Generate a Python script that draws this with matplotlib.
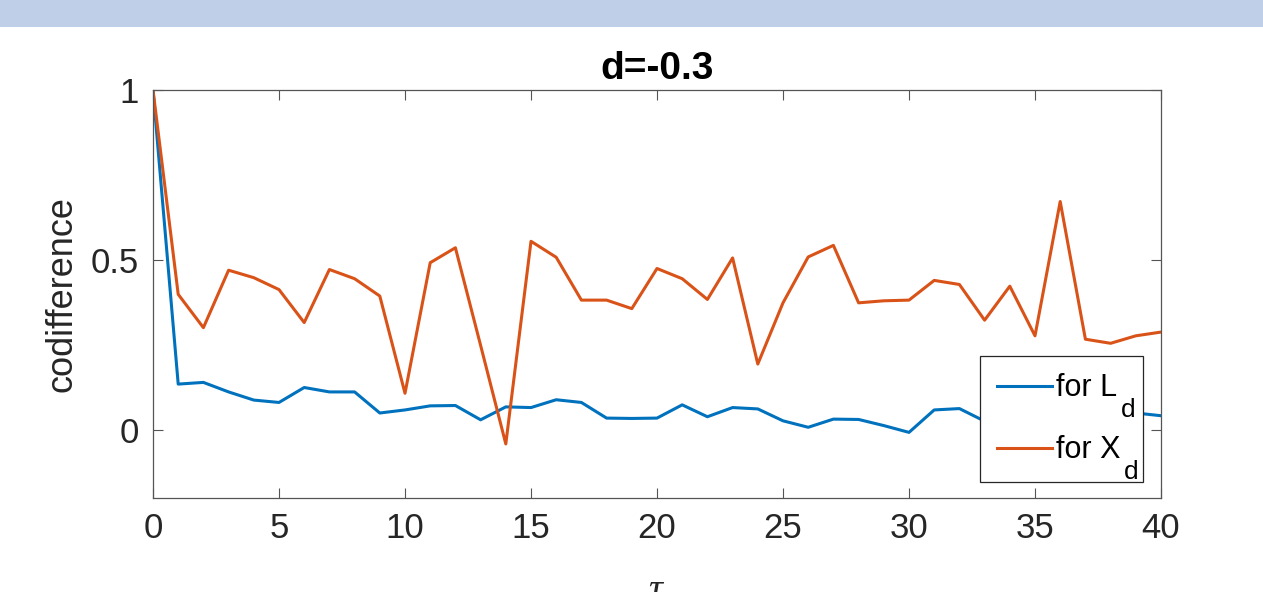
import matplotlib.pyplot as plt
import numpy as np
from matplotlib.patches import Rectangle

plt.rcParams['font.family'] = ['Liberation Sans', 'DejaVu Sans']
plt.rcParams['mathtext.fontset'] = 'custom'
plt.rcParams['mathtext.rm'] = 'Liberation Sans'
plt.rcParams['mathtext.it'] = 'Liberation Serif:italic'

tau = np.arange(0, 41)

# codifference for L_d
cod_L = [1, 0.135, 0.140, 0.112, 0.088, 0.081, 0.125, 0.112, 0.112, 0.050,
         0.059, 0.071, 0.072, 0.030, 0.068, 0.066, 0.089, 0.081, 0.035, 0.034,
         0.035, 0.074, 0.039, 0.066, 0.062, 0.027, 0.008, 0.032, 0.031, 0.013,
         -0.007, 0.059, 0.063, 0.026, 0.040, 0.050, 0.045, 0.055, 0.050, 0.050,
         0.042]

# codifference for X_d
cod_X = [1, 0.399, 0.301, 0.470, 0.448, 0.413, 0.316, 0.472, 0.445, 0.394,
         0.108, 0.492, 0.536, 0.249, -0.041, 0.555, 0.508, 0.382, 0.382, 0.357,
         0.475, 0.445, 0.384, 0.506, 0.194, 0.374, 0.509, 0.543, 0.374, 0.380,
         0.382, 0.440, 0.428, 0.323, 0.423, 0.277, 0.672, 0.267, 0.255, 0.277,
         0.288]

fig = plt.figure(figsize=(12.63, 5.92), dpi=100)
fig.patches.append(Rectangle((0, 1 - 27/592), 1, 27/592, transform=fig.transFigure,
                             facecolor='#BFCFE8', edgecolor='none', zorder=0))

ax = fig.add_axes([153/1263, 1 - 498/592, 1008/1263, 408/592])

ax.plot(tau, cod_L, color='#0072BD', lw=2.2, label='for L')
ax.plot(tau, cod_X, color='#D95319', lw=2.2, label='for X')

ax.set_xlim(0, 40)
ax.set_ylim(-0.2, 1)
ax.set_xticks(range(0, 41, 5))
ax.set_yticks([0, 0.5, 1])
ax.set_yticklabels(['0', '0.5', '1'])

for s in ax.spines.values():
    s.set_color('#555555')
    s.set_linewidth(0.9)
ax.tick_params(direction='in', length=7, width=0.8, color='#555555',
               top=True, right=True, labelsize=25, labelcolor='#262626', pad=10)

ax.set_title('d=-0.3', fontsize=28, fontweight='bold', pad=8)
ax.set_ylabel('codifference', fontsize=26, color='#262626', labelpad=8)
ax.set_xlabel('$\\tau$', fontsize=28, color='#262626', labelpad=20)

leg = ax.legend(loc='lower left', bbox_to_anchor=(0.8204, 0.039, 0.162, 0.3),
                mode='expand', borderaxespad=0,
                fontsize=22, fancybox=False, framealpha=1, edgecolor='#262626',
                handlelength=1.8, handletextpad=0.15, labelspacing=1.05,
                borderpad=0.55)
leg.get_frame().set_linewidth(0.9)

# MATLAB-style subscripts after the legend labels
for txt in leg.get_texts():
    ax.annotate('d', xy=(1, 0), xycoords=txt, xytext=(2.5, 4),
                textcoords='offset points', ha='left', va='top',
                fontsize=19, color='black', zorder=10)

fig.savefig('out.png', dpi=100)
